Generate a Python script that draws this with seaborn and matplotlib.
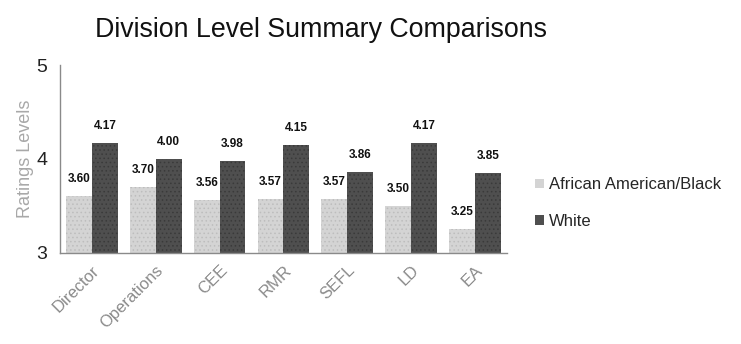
import matplotlib
matplotlib.use("Agg")
import matplotlib.pyplot as plt
import seaborn as sns
import pandas as pd
import numpy as np

categories = ["Director", "Operations", "CEE", "RMR", "SEFL", "LD", "EA"]
african_american = [3.60, 3.70, 3.56, 3.57, 3.57, 3.50, 3.25]
white = [4.17, 4.00, 3.98, 4.15, 3.86, 4.17, 3.85]
groups = ["African American/Black", "White"]

df = pd.DataFrame({
    "Division": categories * 2,
    "Group": [groups[0]] * len(categories) + [groups[1]] * len(categories),
    "Rating": african_american + white,
})

sns.set_style("white")
plt.rcParams["font.family"] = ["Liberation Sans", "DejaVu Sans"]
plt.rcParams["hatch.linewidth"] = 0.6

fig = plt.figure(figsize=(7.41, 3.44), dpi=100)
ax = fig.add_axes([0.081, 0.265, 0.603, 0.546])

palette = {groups[0]: "#d4d4d4", groups[1]: "#4f4f4f"}
sns.barplot(data=df, x="Division", y="Rating", hue="Group", palette=palette,
            width=0.81, ax=ax, legend=True, saturation=1, linewidth=0)

# stippled fill texture on the bars
hatch_colors = ["#bdbdbd", "#3a3a3a"]
for container, hc in zip(ax.containers, hatch_colors):
    for bar in container:
        bar.set_hatch("....")
        bar.set_edgecolor(hc)
        bar.set_linewidth(0)

ax.set_ylim(3, 5)
ax.set_yticks([3, 4, 5])
ax.set_xlim(-0.5, len(categories) - 0.5)
ax.tick_params(axis="y", labelsize=14, length=3, color="#888888",
               labelcolor="#222222", pad=6)
ax.set_ylabel("Ratings Levels", fontsize=13, color="#a8a8a8", labelpad=2)
ax.set_xlabel("")

# category boundary ticks along the bottom
ax.set_xticks(np.arange(len(categories) + 1) - 0.5, minor=True)
ax.tick_params(axis="x", which="minor", length=4, color="#888888", direction="out")
ax.tick_params(axis="x", which="major", length=0, pad=7)
ax.set_xticklabels(categories, rotation=45, ha="right", rotation_mode="anchor",
                   fontsize=12, color="#8a8a8a")

for side in ["top", "right"]:
    ax.spines[side].set_visible(False)
for side in ["left", "bottom"]:
    ax.spines[side].set_color("#8a8a8a")
    ax.spines[side].set_linewidth(1.0)

for container in ax.containers:
    ax.bar_label(container, fmt="%.2f", padding=8, fontsize=8.5, fontweight="bold",
                 color="#111111")

handles, labels = ax.get_legend_handles_labels()
ax.legend(handles, labels, loc="center left", bbox_to_anchor=(1.03, 0.265),
          frameon=False, fontsize=12, handlelength=0.5, handleheight=0.5,
          handletextpad=0.3, labelspacing=1.3)

fig.suptitle("Division Level Summary Comparisons", fontsize=19.3, x=0.433, y=0.952,
             color="#111111")

fig.savefig("out.png", dpi=100)
